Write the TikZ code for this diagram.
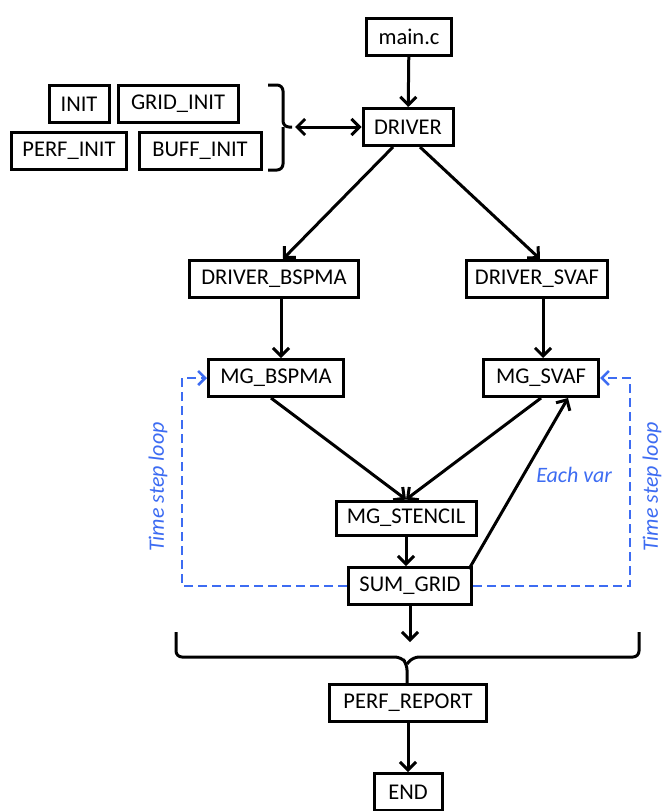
\documentclass[tikz,border=0pt]{standalone}
\usepackage{fontspec}
\setmainfont{Carlito}
\usetikzlibrary{arrows.meta, positioning, calc}
\definecolor{cblue}{HTML}{3D6CF2}
\tikzset{
  every picture/.style={font=\fontsize{22.5}{26}\selectfont, line width=3pt},
  box/.style={draw, rectangle, minimum height=37pt, minimum width=#1, inner xsep=8pt, inner ysep=4pt},
  box/.default=60pt,
  arrow/.style={-{Straight Barb[length=8pt, width=16pt]}},
  twoway/.style={{Straight Barb[length=8pt, width=16pt]}-{Straight Barb[length=8pt, width=16pt]}},
  loopline/.style={-{Straight Barb[length=7pt, width=14pt]}, cblue, dash pattern=on 9pt off 5pt, line width=2.6pt},
  note/.style={text=cblue, font=\fontsize{22}{26}\selectfont\itshape},
}

\begin{document}
\begin{tikzpicture}[x=1pt, y=-1pt]
  \useasboundingbox (0,0) rectangle (666,811);
  % main chain
  \node[box=85pt] (main) at (409,37) {main.c};
  \node[box=90pt] (drv) at (408,127) {DRIVER};
  \node[box=169pt] (dbspma) at (274,279) {DRIVER\_BSPMA};
  \node[box=135pt] (dsvaf) at (537,279) {DRIVER\_SVAF};
  \node[box=135pt] (mgb) at (276,378) {MG\_BSPMA};
  \node[box=115pt] (mgsv) at (541,378) {MG\_SVAF};
  \node[box=140pt, minimum height=34pt] (mgs) at (406,518) {MG\_STENCIL};
  \node[box=123pt] (sum) at (410,586) {SUM\_GRID};
  \node[box=157pt] (perf) at (408,703) {PERF\_REPORT};
  \node[box=68pt] (end) at (408,792) {END};
  % init group
  \node[box=60pt] (init) at (79,104) {INIT};
  \node[box=120pt] (ginit) at (178,104) {GRID\_INIT};
  \node[box=115pt] (pinit) at (69,151) {PERF\_INIT};
  \node[box=122pt] (binit) at (200,151) {BUFF\_INIT};
  \draw[rounded corners=6pt] (268,85) -- (283,85) -- (283,127) -- (292,127);
  \draw[rounded corners=6pt] (268,170) -- (283,170) -- (283,127);
  \coordinate (inittip) at (295,127);
  \draw[twoway] (inittip) -- (drv.west);
  % calls
  \draw[arrow] (main) -- (drv);
  \draw[arrow] ([xshift=-15pt]drv.south) -- ([xshift=9pt]dbspma.north);
  \draw[arrow] ([xshift=12pt]drv.south) -- ([xshift=3pt]dsvaf.north);
  \draw[arrow] ([xshift=7pt]dbspma.south) -- ([xshift=5pt]mgb.north);
  \draw[arrow] ([xshift=6pt]dsvaf.south) -- ([xshift=2pt]mgsv.north);
  \draw[arrow] ([xshift=-5pt]mgb.south) -- (mgs.north);
  \draw[arrow] (mgsv.south) -- (mgs.north);
  \draw[arrow] (mgs.south) -- (mgs.south |- sum.north);
  \draw[arrow] ([xshift=-4pt,yshift=-3pt]sum.north east) -- ([xshift=27pt]mgsv.south)
    node[note, pos=0.55, right=8pt] {Each var};
  % time step loops
  \coordinate (lloop) at (182,378);
  \coordinate (rloop) at (630,378);
  \draw[loopline] (sum.west) -| (lloop) -- (mgb.west);
  \draw[loopline] (sum.east) -| (rloop) -- (mgsv.east);
  \node[note, rotate=90] (ltime) at (158,487) {Time step loop};
  \node[note, rotate=90, inner sep=1pt] (rtime) at (652,487) {Time step loop};
  % join
  \coordinate (sumend) at (410,642);
  \draw[arrow] (sum.south) -- (sumend);
  \draw[rounded corners=6pt] (176,632) -- (176,657) -- (401,657) -- (407,664) -- (407,684);
  \draw[rounded corners=6pt] (639,632) -- (639,657) -- (413,657) -- (407,664);
  \draw[arrow] (perf) -- (end);
\end{tikzpicture}
\end{document}
